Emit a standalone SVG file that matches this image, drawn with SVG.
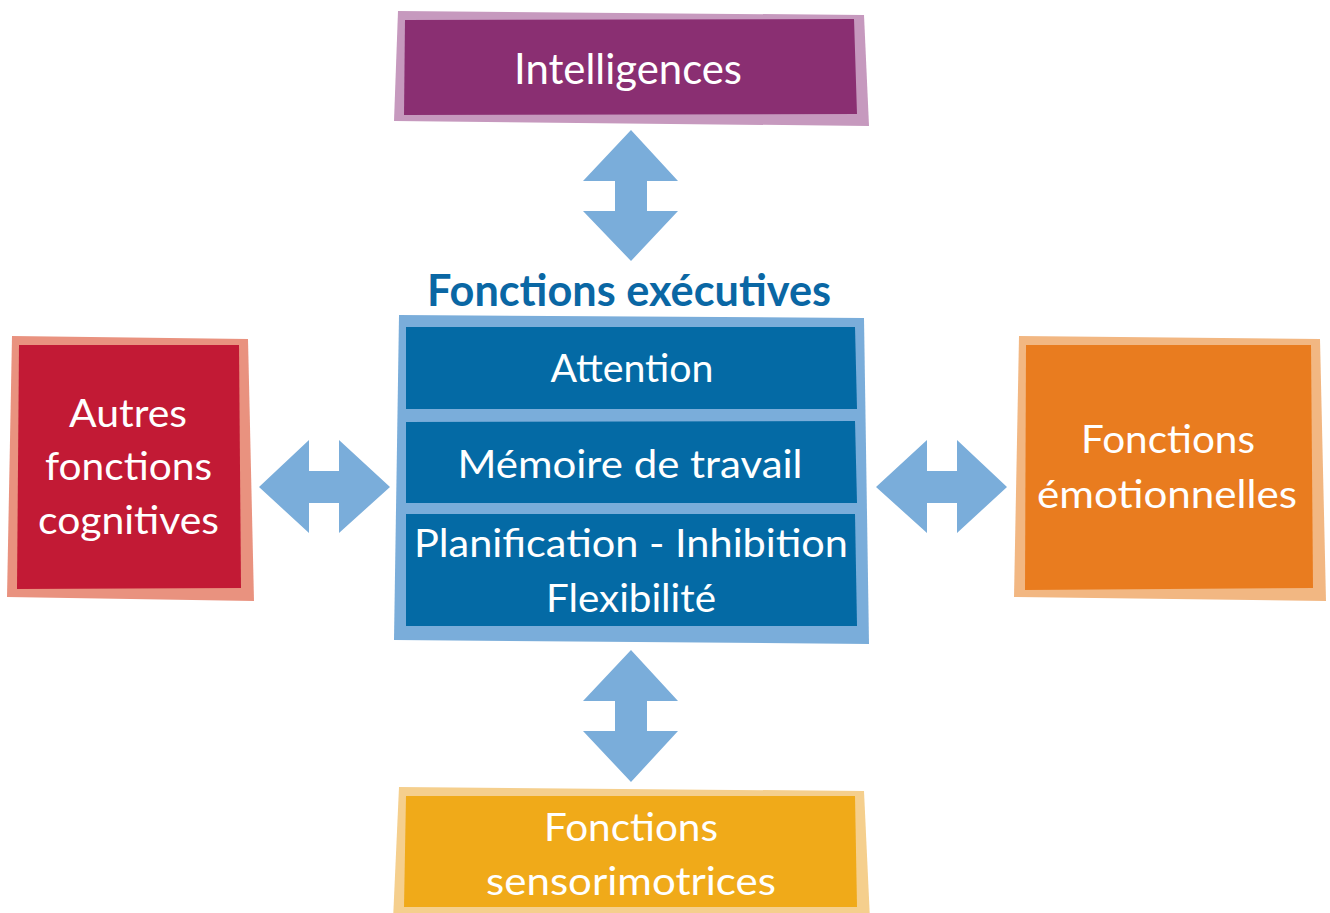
<svg xmlns="http://www.w3.org/2000/svg" width="1330" height="913" viewBox="0 0 1330 913">
<style>
.t{font-family:Lato,"Open Sans","Liberation Sans",sans-serif;fill:#ffffff;text-anchor:middle;font-size:39px}
.big{font-size:43px}
.title{font-family:Lato,"Open Sans","Liberation Sans",sans-serif;fill:#0A67A4;font-weight:bold;font-size:43px;text-anchor:middle}
.arrow{fill:#7AADDA}
.blueOut{fill:#7AADDA}
.blueIn{fill:#046AA5}
</style>
<rect width="1330" height="913" fill="#ffffff"/>
<g id="intelligences">
<polygon points="398,11 864,15 869,126 394,121" fill="#C699BE"/>
<polygon points="405,20 854,19 857,114 404,115" fill="#8A2F72"/>
<text class="t big" x="628" y="84" textLength="228" lengthAdjust="spacingAndGlyphs">Intelligences</text>
</g>
<g id="fonctions-executives">
<text class="title" x="629" y="306" textLength="404" lengthAdjust="spacingAndGlyphs">Fonctions exécutives</text>
<polygon class="blueOut" points="399,315 864,318 869,644 394,640"/>
<polygon class="blueIn" points="406,327 855,327 857,409 406,409"/>
<polygon class="blueIn" points="406,422 855,421 857,503 406,503"/>
<polygon class="blueIn" points="406,514 855,514 857,626 406,626"/>
<text class="t" x="632" y="382" textLength="163" lengthAdjust="spacingAndGlyphs">Attention</text>
<text class="t" x="630" y="478" textLength="345" lengthAdjust="spacingAndGlyphs">Mémoire de travail</text>
<text class="t" x="631" y="557" textLength="434" lengthAdjust="spacingAndGlyphs">Planification - Inhibition</text>
<text class="t" x="631" y="612" textLength="170" lengthAdjust="spacingAndGlyphs">Flexibilité</text>
</g>
<g id="autres-fonctions-cognitives">
<polygon points="12,336 248,339 254,601 7,597" fill="#E9927F"/>
<polygon points="19,345 239,345 241,588 17,589" fill="#C21A35"/>
<text class="t" x="128" y="427" textLength="118" lengthAdjust="spacingAndGlyphs">Autres</text>
<text class="t" x="128.5" y="480" textLength="167" lengthAdjust="spacingAndGlyphs">fonctions</text>
<text class="t" x="128.5" y="534" textLength="181" lengthAdjust="spacingAndGlyphs">cognitives</text>
</g>
<g id="fonctions-emotionnelles">
<polygon points="1019,336 1320,339 1326,601 1014,597" fill="#F2B782"/>
<polygon points="1026,345 1311,345 1313,588 1025,590" fill="#E97C1F"/>
<text class="t" x="1168" y="453" textLength="174" lengthAdjust="spacingAndGlyphs">Fonctions</text>
<text class="t" x="1167" y="508" textLength="260" lengthAdjust="spacingAndGlyphs">émotionnelles</text>
</g>
<g id="fonctions-sensorimotrices">
<polygon points="399,787 864,791 870,920 393,920" fill="#F5CF8D"/>
<polygon points="406,796 855,796 857,907 404,907" fill="#F0AA19"/>
<text class="t" x="631" y="841" textLength="174" lengthAdjust="spacingAndGlyphs">Fonctions</text>
<text class="t" x="631" y="895" textLength="290" lengthAdjust="spacingAndGlyphs">sensorimotrices</text>
</g>
<g id="connectors">
<polygon class="arrow" points="631,130 678,181 647,181 647,211 678,211 631,261 583,211 615,211 615,181 583,181"/>
<polygon class="arrow" points="631,650 678,701 647,701 647,731 678,731 631,782 583,731 615,731 615,701 583,701"/>
<polygon class="arrow" points="259,487 309,440 309,471 339,471 339,440 390,487 339,533 339,503 309,503 309,533"/>
<polygon class="arrow" points="876,487 927,440 927,471 957,471 957,440 1007,487 957,533 957,503 927,503 927,533"/>
</g>
</svg>
